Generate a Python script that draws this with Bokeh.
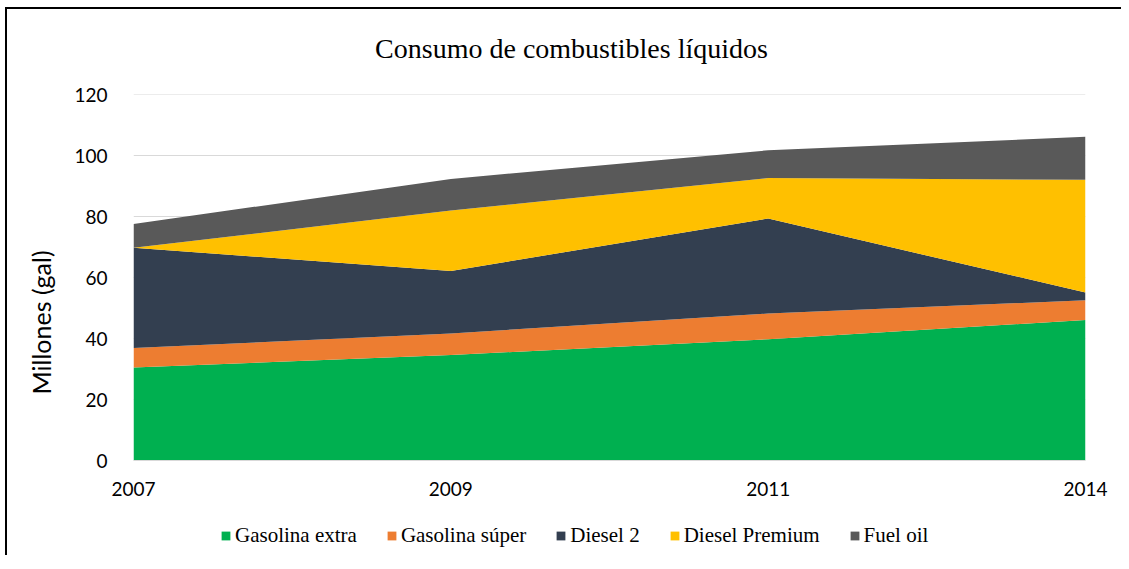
from bokeh.plotting import figure
from bokeh.models import ColumnDataSource, Range1d, Legend, FixedTicker, Title, Label
from bokeh.layouts import column
from bokeh.embed import file_html
from bokeh.resources import INLINE

years = ["2007", "2009", "2011", "2014"]
gasolina_extra = [30.5, 34.6, 39.8, 46.1]
gasolina_super = [6.4, 7.1, 8.4, 6.5]
diesel_2 = [32.9, 20.5, 31.2, 2.5]
diesel_premium = [0.0, 19.8, 13.3, 37.0]
fuel_oil = [7.8, 10.4, 9.1, 14.1]

series = ["Gasolina extra", "Gasolina súper", "Diesel 2", "Diesel Premium", "Fuel oil"]
colors = ["#00B050", "#ED7D31", "#333F50", "#FFC000", "#595959"]
y_ticks = [0, 20, 40, 60, 80, 100, 120]

xpos = list(range(len(years)))
source = ColumnDataSource(data={
    "x": xpos,
    "Gasolina extra": gasolina_extra,
    "Gasolina súper": gasolina_super,
    "Diesel 2": diesel_2,
    "Diesel Premium": diesel_premium,
    "Fuel oil": fuel_oil,
})

W = 1114
FW = 952

# --- title strip (its frame is aligned with the chart frame by the column) ---
tf = figure(width=W, height=73, output_backend="svg", toolbar_location=None,
            x_range=Range1d(0, FW), y_range=Range1d(0, 73), min_border=0,
            x_axis_location=None, y_axis_location=None)
tf.grid.grid_line_color = None
tf.outline_line_color = None
tf.add_layout(Label(x=438, y=34, text="Consumo de combustibles líquidos",
                    text_font="Liberation Serif", text_font_size="28px",
                    text_align="center", text_baseline="middle", text_color="#000000"))

# --- main chart ---
p = figure(frame_width=FW, frame_height=366, output_backend="svg", toolbar_location=None,
           x_range=Range1d(0, len(years) - 1), y_range=Range1d(0, 120.1),
           min_border_left=126, min_border_right=36, min_border_top=12, min_border_bottom=45)

renderers = p.varea_stack(stackers=series, x="x", color=colors, source=source)

p.outline_line_color = None
p.xgrid.grid_line_color = None
p.ygrid.grid_line_color = "#D9D9D9"
p.ygrid.grid_line_width = 1

p.yaxis.ticker = FixedTicker(ticks=y_ticks)
p.xaxis.ticker = FixedTicker(ticks=xpos)
p.xaxis.major_label_overrides = {i: y for i, y in enumerate(years)}
for ax in (p.xaxis[0], p.yaxis[0]):
    ax.major_tick_line_color = None
    ax.minor_tick_line_color = None
    ax.major_label_text_font = "Lato"
    ax.major_label_text_font_size = "19px"
    ax.major_label_text_color = "#000000"
p.yaxis.axis_line_color = None
p.xaxis.axis_line_color = "#D9D9D9"
p.yaxis.major_label_standoff = 20
p.xaxis.major_label_standoff = 15

ylab = Title(text="Millones (gal)", align="left", offset=66, standoff=31,
             text_font="Lato", text_font_size="25px", text_font_style="normal",
             text_color="#000000")
p.add_layout(ylab, "left")

# --- legend strip ---
lf = figure(width=W, height=50, output_backend="svg", toolbar_location=None,
            x_range=Range1d(-10, -9), y_range=Range1d(0, 1), min_border=0,
            x_axis_location=None, y_axis_location=None)
lf.grid.grid_line_color = None
lf.outline_line_color = None
legend_renderers = lf.varea_stack(stackers=series, x="x", color=colors, source=source, visible=False)
legend = Legend(items=[(s, [r]) for s, r in zip(series, legend_renderers)],
                orientation="horizontal", location=(87, 7), click_policy="none",
                glyph_width=11, glyph_height=11, label_standoff=4, spacing=29,
                padding=0, margin=0, border_line_color=None,
                label_text_font="Liberation Serif", label_text_font_size="21px",
                label_text_color="#000000", background_fill_alpha=0)
lf.add_layout(legend)

layout = column(tf, p, lf, spacing=0, margin=(7, 0, 0, 5),
                styles={"border-left": "2px solid black", "border-top": "2px solid black"})

open("out.html", "w").write(file_html(layout, INLINE))
